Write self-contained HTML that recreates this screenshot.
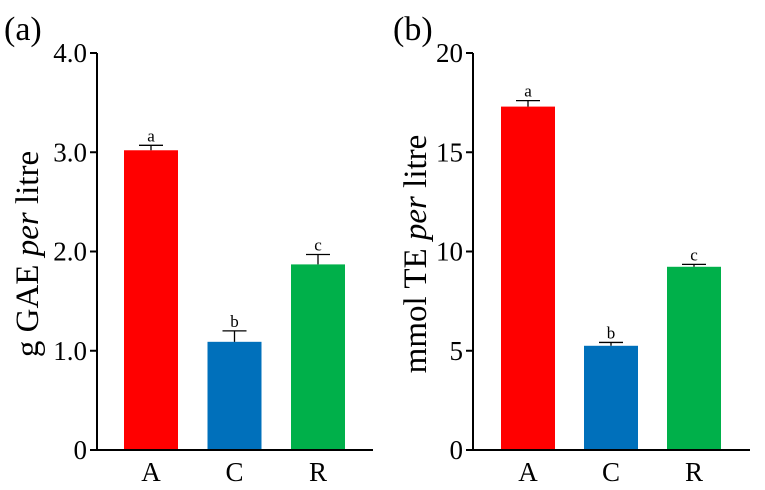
<!DOCTYPE html>
<html><head><meta charset="utf-8"><style>
body{margin:0;background:#fff}
svg{display:block;font-family:"Liberation Serif",serif}
</style></head><body>
<svg id="c" width="765" height="490"></svg>
<script>
const categories=["A","C","R"];
const colors=["#ff0000","#0070bb","#00b04a"];
const valuesA=[3.02,1.09,1.87];
const errorsA=[0.05,0.11,0.10];
const lettersA=["a","b","c"];
const ticksA=[0,1,2,3,4];
const tickLabelsA=["0","1.0","2.0","3.0","4.0"];
const valuesB=[17.3,5.25,9.23];
const errorsB=[0.3,0.17,0.12];
const lettersB=["a","b","c"];
const ticksB=[0,5,10,15,20];
const tickLabelsB=["0","5","10","15","20"];
const NS="http://www.w3.org/2000/svg";
const svg=document.getElementById('c');
function mk(t,a,p){const e=document.createElementNS(NS,t);for(const k in a)e.setAttribute(k,a[k]);(p||svg).appendChild(e);return e;}
function panel(cfg){
  const g=mk('g',{});
  
  
  const y=v=>450-(v/cfg.max)*397;
  const x0=cfg.ax, step=cfg.step;
  const lab=mk('text',{x:cfg.lx,y:40,'font-size':34},g);lab.textContent=cfg.label;
  
  
  categories.forEach((c,i)=>{
    const bx=cfg.b0+i*step, w=54;
    const r=mk('rect',{x:bx,y:y(cfg.vals[i]),width:w,height:450-y(cfg.vals[i]),fill:colors[i]},g);
    
    
    const cx=bx+w/2, et=y(cfg.vals[i]+cfg.errs[i]);
    const e=mk('path',{d:`M${cx} ${y(cfg.vals[i])}V${et}M${cx-12} ${et}H${cx+12}`,stroke:'#000','stroke-width':1.3,fill:'none'},g);
    
    
    const t=mk('text',{x:cx,y:et-4,'font-size':17,'text-anchor':'middle'},g);t.textContent=cfg.letters[i];
    
    
    const xl=mk('text',{x:cx,y:481,'font-size':27,'text-anchor':'middle'},g);xl.textContent=c;
    
    
  });
  cfg.ticks.forEach((v,i)=>{
    mk('line',{x1:x0-7,x2:x0,y1:y(v),y2:y(v),stroke:'#000','stroke-width':2},g);
    const t=mk('text',{x:x0-10,y:y(v)+9,'font-size':27,'text-anchor':'end'},g);t.textContent=cfg.tickLabels[i];
    
    
  });
  const ax=mk('path',{d:`M${x0} 53V450H${cfg.xe}`,stroke:'#000','stroke-width':2,fill:'none'},g);
  
  
  const yt=mk('text',{x:0,y:0,'font-size':33,'text-anchor':'middle',transform:`translate(${cfg.tx},${cfg.ty}) rotate(-90)`},g);
  yt.innerHTML=cfg.title;
  
  
}
panel({name:'panel-a',label:'(a)',lx:4,ax:97,xe:373,b0:124,step:83.5,max:4,vals:valuesA,errs:errorsA,letters:lettersA,ticks:ticksA,tickLabels:tickLabelsA,tx:38,ty:254,title:'g GAE <tspan font-style="italic">per</tspan> litre'});
panel({name:'panel-b',label:'(b)',lx:393,ax:473,xe:750,b0:501,step:83,max:20,vals:valuesB,errs:errorsB,letters:lettersB,ticks:ticksB,tickLabels:tickLabelsB,tx:426,ty:254,title:'mmol TE <tspan font-style="italic">per</tspan> litre'});
</script>
</body></html>
